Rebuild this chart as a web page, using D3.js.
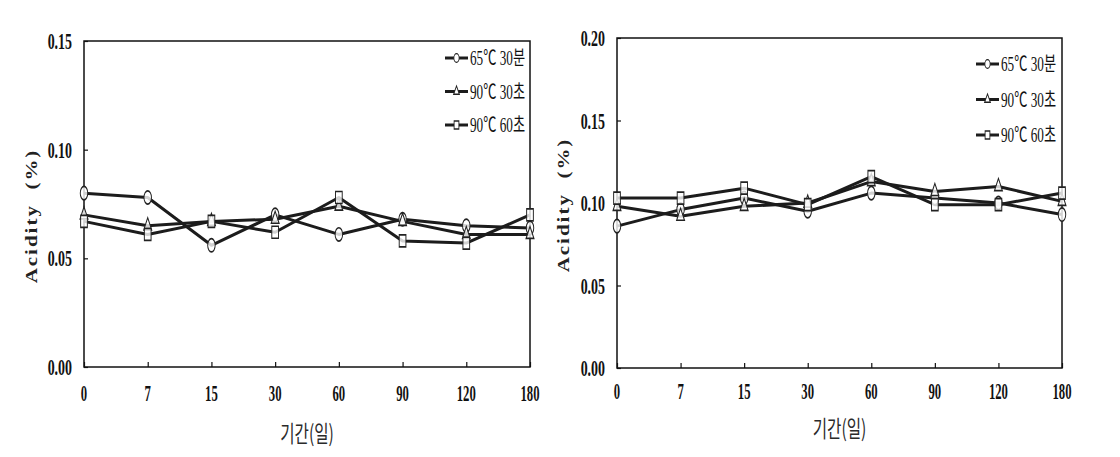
<!DOCTYPE html>
<html>
<head>
<meta charset="utf-8">
<script src="https://cdn.jsdelivr.net/npm/d3@7"></script>
<style>
  html, body { margin: 0; padding: 0; background: #fff; }
  svg { display: block; }
</style>
</head>
<body>
<svg id="chart" width="1120" height="457"></svg>
<script>
// ---- data ----
const categories = ["0", "7", "15", "30", "60", "90", "120", "180"];
const seriesNames = ["65\u2103 30\ubd84", "90\u2103 30\ucd08", "90\u2103 60\ucd08"];
const seriesSymbols = ["circle", "triangle", "square"];

// left panel
const leftCircle   = [0.080, 0.078, 0.056, 0.070, 0.061, 0.068, 0.065, 0.064];
const leftTriangle = [0.070, 0.065, 0.067, 0.068, 0.074, 0.067, 0.061, 0.061];
const leftSquare   = [0.067, 0.061, 0.067, 0.062, 0.078, 0.058, 0.057, 0.070];
const leftYTicks   = [0.00, 0.05, 0.10, 0.15];

// right panel
const rightCircle   = [0.086, 0.096, 0.103, 0.095, 0.106, 0.103, 0.100, 0.093];
const rightTriangle = [0.098, 0.092, 0.098, 0.100, 0.113, 0.107, 0.110, 0.101];
const rightSquare   = [0.103, 0.103, 0.109, 0.099, 0.116, 0.099, 0.099, 0.106];
const rightYTicks   = [0.00, 0.05, 0.10, 0.15, 0.20];

const yTitle = "Acidity  (%)";
const xTitle = "\uae30\uac04(\uc77c)";

// ---- drawing ----
const svg = d3.select("#chart");
const INK = "#111";

function symbolPath(kind, big) {
  const t = kind === "circle" ? d3.symbolCircle : kind === "triangle" ? d3.symbolTriangle : d3.symbolSquare;
  const sizes = big
    ? { circle: 140, triangle: 85, square: 144 }
    : { circle: 60, triangle: 40, square: 64 };
  return d3.symbol().type(t).size(sizes[kind])();
}

function drawPanel(p) {
  const g = svg.append("g");
  const x = d3.scalePoint().domain(categories).range([p.x0, p.x1]).padding(0);
  const y = d3.scaleLinear().domain([0, p.yMax]).range([p.y0, p.y1]);

  // frame
  g.append("rect")
    .attr("x", p.x0).attr("y", p.y1)
    .attr("width", p.x1 - p.x0).attr("height", p.y0 - p.y1)
    .attr("fill", "none").attr("stroke", INK).attr("stroke-width", 1.5);

  // y axis (ticks inward)
  const yAxis = d3.axisRight(y).tickValues(p.yTicks).tickSize(4).tickFormat("");
  g.append("g").attr("transform", `translate(${p.x0},0)`).call(yAxis)
    .call(s => s.select(".domain").remove())
    .selectAll("line").attr("stroke", INK).attr("stroke-width", 1.2);

  // x axis ticks inward
  const xAxis = d3.axisTop(x).tickSize(5).tickFormat("");
  g.append("g").attr("transform", `translate(0,${p.y0})`).call(xAxis)
    .call(s => s.select(".domain").remove())
    .selectAll("line").attr("stroke", INK).attr("stroke-width", 1.2);

  // y tick labels
  g.selectAll(".ylab").data(p.yTicks).enter().append("text")
    .attr("transform", d => `translate(${p.x0 - 12},${y(d) + 8}) scale(0.58,1)`)
    .attr("text-anchor", "end")
    .attr("font-family", "'Liberation Serif', serif")
    .attr("font-weight", "bold")
    .attr("font-size", 24)
    .attr("fill", INK)
    .text(d => d.toFixed(2));

  // x tick labels
  g.selectAll(".xlab").data(categories).enter().append("text")
    .attr("transform", d => `translate(${x(d)},${p.y0 + p.xLabDy}) scale(0.53,1)`)
    .attr("text-anchor", "middle")
    .attr("font-family", "'Liberation Serif', serif")
    .attr("font-weight", "bold")
    .attr("font-size", 24)
    .attr("fill", INK)
    .text(d => d);

  // series
  const line = d3.line().x((d, i) => x(categories[i])).y(d => y(d));
  p.series.forEach((vals) => {
    g.append("path").datum(vals)
      .attr("d", line)
      .attr("fill", "none")
      .attr("stroke", "#1c1c1c")
      .attr("stroke-width", 3)
      .attr("stroke-linejoin", "round");
  });
  p.series.forEach((vals, si) => {
    const kind = seriesSymbols[si];
    g.selectAll(null).data(vals).enter().append("path")
      .attr("d", symbolPath(kind, true))
      .attr("transform", (d, i) => `translate(${x(categories[i])},${y(d)}) scale(0.56,1)`)
      .attr("fill", "#fff")
      .attr("fill-opacity", 0.8)
      .attr("stroke", "#222")
      .attr("stroke-width", 1.7);
  });

  // legend
  seriesNames.forEach((name, si) => {
    const ly = p.legY + si * p.legGap;
    g.append("line")
      .attr("x1", p.legX).attr("x2", p.legX + 23)
      .attr("y1", ly).attr("y2", ly)
      .attr("stroke", "#1c1c1c").attr("stroke-width", 3);
    g.append("path")
      .attr("d", symbolPath(seriesSymbols[si], false))
      .attr("transform", `translate(${p.legX + 11.5},${ly}) scale(0.6,1)`)
      .attr("fill", "#fff").attr("stroke", "#222").attr("stroke-width", 1.4);
    g.append("text")
      .attr("transform", `translate(${p.legX + 25},${ly + 7}) scale(0.66,1)`)
      .attr("font-family", "'Liberation Serif', 'Noto Sans CJK KR', serif")
      .attr("font-size", 20)
      .attr("fill", INK)
      .text(name);
  });

  // y title
  g.append("text")
    .attr("transform", `translate(${p.yTitleX},${p.yTitleY}) rotate(-90) scale(1,0.75)`)
    .attr("text-anchor", "middle")
    .attr("font-family", "'Liberation Serif', serif")
    .attr("font-weight", "bold")
    .attr("font-size", 21)
    .attr("letter-spacing", 2)
    .attr("fill", "#222")
    .style("white-space", "pre")
    .text(yTitle);

  // x title
  g.append("text")
    .attr("transform", `translate(${(p.x0 + p.x1) / 2},${p.xTitleY}) scale(0.68,1)`)
    .attr("text-anchor", "middle")
    .attr("font-family", "'Noto Sans CJK KR', sans-serif")
    .attr("font-size", 23)
    .attr("fill", "#2a2a2a")
    .text(xTitle);
}

drawPanel({
  x0: 84, x1: 530, y0: 367, y1: 41, yMax: 0.15, yTicks: leftYTicks,
  series: [leftCircle, leftTriangle, leftSquare],
  xLabDy: 34, legX: 445, legY: 58, legGap: 33.5,
  yTitleX: 37, yTitleY: 216, xTitleY: 442
});

drawPanel({
  x0: 617, x1: 1062, y0: 368, y1: 38, yMax: 0.20, yTicks: rightYTicks,
  series: [rightCircle, rightTriangle, rightSquare],
  xLabDy: 31, legX: 976, legY: 64, legGap: 35.5,
  yTitleX: 569, yTitleY: 205, xTitleY: 437
});
</script>
</body>
</html>
